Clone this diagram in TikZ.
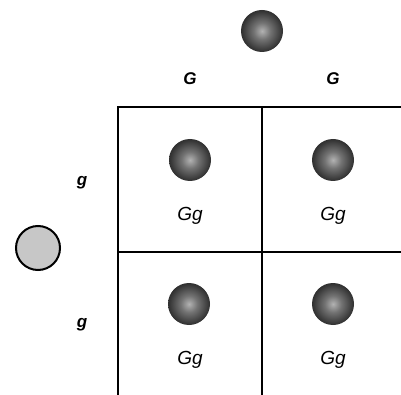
\documentclass[tikz,border=0pt]{standalone}
\usepackage{fontspec}
\setmainfont{Liberation Sans}
\begin{document}
\pgfdeclareradialshading{gamete}{\pgfpoint{0bp}{0bp}}{%
  color(0bp)=(black!30);
  color(10bp)=(black!55);
  color(24bp)=(black!80);
  color(40bp)=(black!93);
  color(50bp)=(black)}
\begin{tikzpicture}[x=1pt,y=-1pt,
  gridline/.style={line width=1.6pt, black},
  sphere/.style={circle, minimum size=42pt, inner sep=0pt, shading=gamete},
  lightcell/.style={circle, minimum size=44pt, inner sep=0pt, fill=black!22, draw=black, line width=2pt},
  hdr/.style={font=\fontsize{17}{19}\selectfont\bfseries\itshape, inner sep=0pt},
  geno/.style={font=\fontsize{19}{21}\selectfont\itshape, inner sep=0pt}]
\useasboundingbox (0,0) rectangle (401,395);
% grid
\coordinate (tl) at (118,107);
\coordinate (tr) at (401,107);
\coordinate (tm) at (262,107);
\coordinate (bm) at (262,395);
\coordinate (bl) at (118,395);
\coordinate (ml) at (118,252);
\coordinate (mr) at (401,252);
\draw[gridline] (tr) -- (tl) -- (bl);
\draw[gridline] (tm) -- (bm);
\draw[gridline] (ml) -- (mr);
% parents
\node[sphere] (top) at (262,31) {};
\node[lightcell] (left) at (38,248) {};
% headers
\node[hdr] (G1) at (190,79) {G};
\node[hdr] (G2) at (333,79) {G};
\node[hdr] (g1) at (82,183) {g};
\node[hdr] (g2) at (82,325) {g};
% offspring
\node[sphere] (s11) at (190,160) {};
\node[sphere] (s12) at (333,160) {};
\node[sphere] (s21) at (189,304) {};
\node[sphere] (s22) at (333,304) {};
\node[geno] (t11) at (190,216) {Gg};
\node[geno] (t12) at (333,216) {Gg};
\node[geno] (t21) at (190,360) {Gg};
\node[geno] (t22) at (333,360) {Gg};
\end{tikzpicture}
\end{document}
